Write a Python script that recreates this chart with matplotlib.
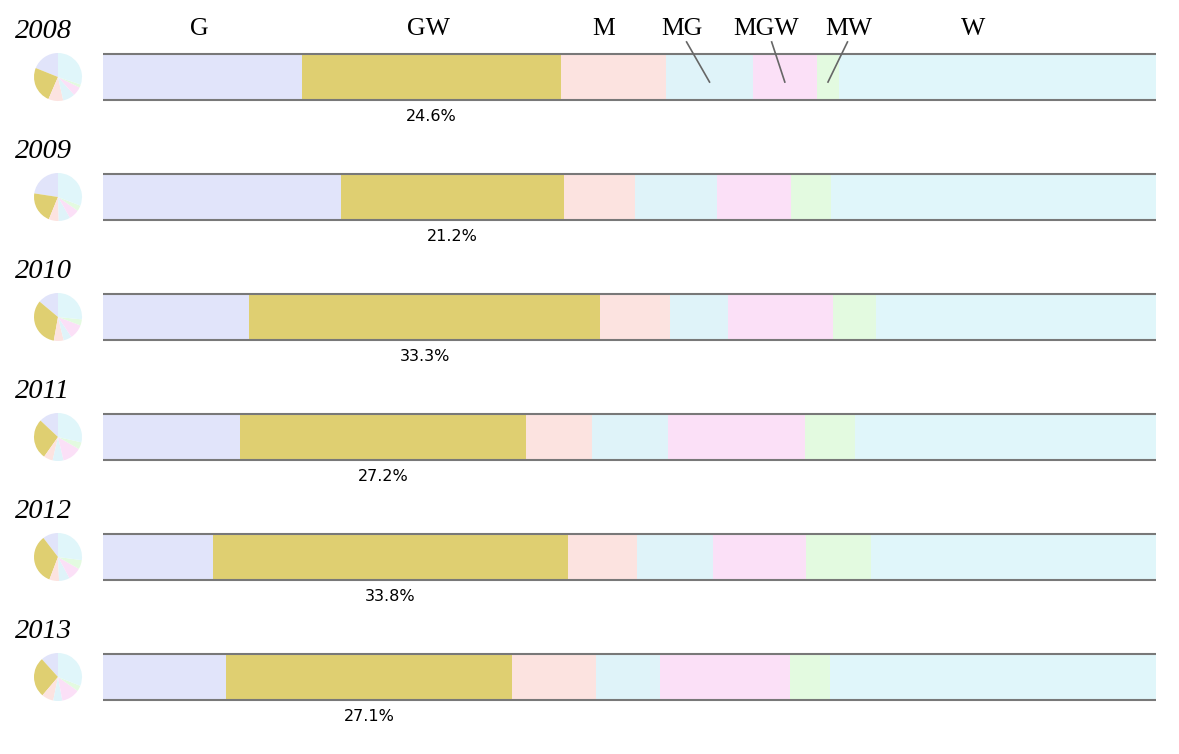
import matplotlib.pyplot as plt

years = ["2008", "2009", "2010", "2011", "2012", "2013"]
cats = ["G", "GW", "M", "MG", "MGW", "MW", "W"]
colors = ["#e1e4fa", "#dfcf71", "#fce3e0", "#dff3f9", "#fbe0f7", "#e3fae0", "#e0f6fa"]

# share of each category per year (%)
shares = [
    [18.9, 24.6, 10.0, 8.2, 6.1, 2.1, 30.1],
    [22.6, 21.2, 6.7, 7.8, 7.0, 3.8, 30.9],
    [13.9, 33.3, 6.6, 5.6, 9.9, 4.1, 26.6],
    [13.0, 27.2, 6.2, 7.3, 13.0, 4.7, 28.6],
    [10.4, 33.8, 6.5, 7.2, 8.9, 6.1, 27.1],
    [11.7, 27.1, 8.0, 6.1, 12.3, 3.8, 31.0],
]
gw_labels = ["24.6%", "21.2%", "33.3%", "27.2%", "33.8%", "27.1%"]

W, H = 1179, 754
fig = plt.figure(figsize=(W / 100, H / 100), dpi=100)
ax = fig.add_axes([0, 0, 1, 1])
x0, pxw = 103, 10.53  # bar left edge and px per percent
ax.set_xlim(-x0 / pxw, (W - x0) / pxw)
ax.set_ylim((H - 77) / 120, -77 / 120)
ax.axis("off")

bh = 46 / 120
for i, row in enumerate(shares):
    left = 0
    for v, c in zip(row, colors):
        ax.barh(i, v, left=left, height=bh, color=c, linewidth=0)
        left += v
    ax.hlines([i - bh / 2, i + bh / 2], 0, left, color="#787878", lw=1.5)
    gw_mid = row[0] + row[1] / 2
    ax.text(gw_mid, i + 0.333, gw_labels[i], ha="center", va="center",
            fontsize=11.5, family="DejaVu Sans")
    fig.text(15 / W, 1 - (38 + 120 * i) / H, years[i], fontsize=20.5,
             family="Liberation Serif", style="italic", va="baseline")
    pax = fig.add_axes([34 / W, 1 - (77 + 120 * i + 24) / H, 48 / W, 48 / H])
    pax.pie(row, colors=colors, startangle=90, counterclock=True,
            wedgeprops=dict(linewidth=0))
    pax.set_xlim(-1, 1)
    pax.set_ylim(-1, 1)
    pax.set_aspect("equal")

# header labels above the first bar
label_x = [9.12, 30.86, 47.58, 54.99, 62.96, 70.85, 82.62]
for name, lx in zip(cats, label_x):
    ax.text(lx, -0.35, name, ha="center", va="baseline", fontsize=18.5,
            family="Liberation Serif")

# leader lines for the narrow segments
first = shares[0]
starts = {"MG": 55.42, "MGW": 63.5, "MW": 70.7}
for name, sx in starts.items():
    k = cats.index(name)
    mid = sum(first[:k]) + first[k] / 2
    ax.plot([sx, mid], [-0.292, 0.042], color="#666666", lw=1.2)

fig.savefig("out.png", dpi=100)
